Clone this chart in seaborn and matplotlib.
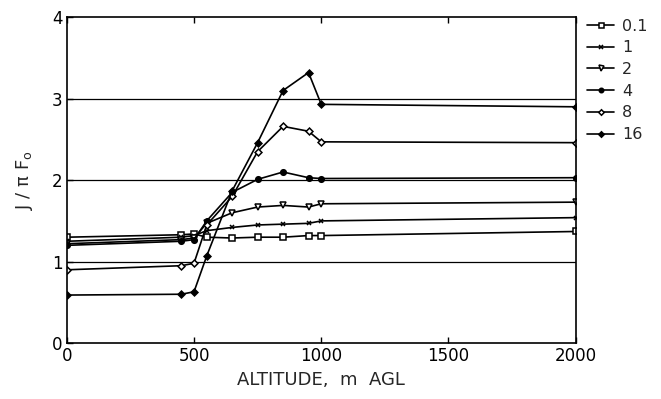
import pandas as pd
import matplotlib
matplotlib.use('Agg')
import matplotlib.pyplot as plt
import seaborn as sns

# altitude points (m AGL)
altitude = [0, 450, 500, 550, 650, 750, 850, 950, 1000, 2000]

# J / pi F0 for each cloud optical depth
tau_01 = [1.30, 1.33, 1.34, 1.30, 1.29, 1.30, 1.30, 1.32, 1.32, 1.37]
tau_1 = [1.25, 1.30, 1.32, 1.38, 1.42, 1.45, 1.46, 1.47, 1.50, 1.54]
tau_2 = [1.22, 1.27, 1.29, 1.47, 1.60, 1.67, 1.69, 1.67, 1.71, 1.73]
tau_4 = [1.20, 1.25, 1.27, 1.50, 1.85, 2.01, 2.10, 2.03, 2.02, 2.03]
tau_8 = [0.90, 0.95, 0.98, 1.45, 1.80, 2.35, 2.66, 2.60, 2.47, 2.46]
tau_16 = [0.59, 0.60, 0.63, 1.07, 1.87, 2.46, 3.10, 3.32, 2.93, 2.90]

labels = ['0.1', '1', '2', '4', '8', '16']
series = [tau_01, tau_1, tau_2, tau_4, tau_8, tau_16]

# marker, face colour, size
styles = {
    '0.1': ('s', 'white', 4.5),
    '1': ('x', 'black', 3.5),
    '2': ('v', 'white', 4.5),
    '4': ('o', 'black', 4),
    '8': ('D', 'white', 3.5),
    '16': ('D', 'black', 3.5),
}

sns.set_style('ticks')
plt.rcParams['font.family'] = ['DejaVu Sans']

fig = plt.figure(figsize=(6.61, 3.99), dpi=100)
ax = fig.add_axes([0.101, 0.140, 0.770, 0.817])

for lab, vals in zip(labels, series):
    df = pd.DataFrame({'Altitude': altitude, 'J': vals})
    m, fc, ms = styles[lab]
    sns.lineplot(data=df, x='Altitude', y='J', ax=ax, color='black',
                 marker=m, markerfacecolor=fc, markeredgecolor='black',
                 markersize=ms, markeredgewidth=1.1, linewidth=1.2,
                 label=lab, sort=False)

for yv in [1, 2, 3]:
    ax.axhline(yv, color='black', linewidth=0.9, zorder=0)

ax.set_xlim(0, 2000)
ax.set_ylim(0, 4)
ax.set_xticks([0, 500, 1000, 1500, 2000])
ax.set_yticks([0, 1, 2, 3, 4])
ax.tick_params(direction='in', top=True, right=False, length=4, width=1,
               labelsize=12, colors='black', pad=3)
for s in ax.spines.values():
    s.set_color('black')
    s.set_linewidth(1.2)

ax.set_xlabel('ALTITUDE,  m  AGL', fontsize=13, labelpad=4)
ax.set_ylabel('J / π F$_\\mathrm{o}$', fontsize=13, labelpad=12)

ax.legend(loc='upper left', bbox_to_anchor=(1.01, 1.015), frameon=False,
          fontsize=11.5, handlelength=1.7, labelspacing=0.42,
          handletextpad=0.5, borderaxespad=0.0, markerscale=0.8)

fig.savefig('out.png', dpi=100, facecolor='white')
